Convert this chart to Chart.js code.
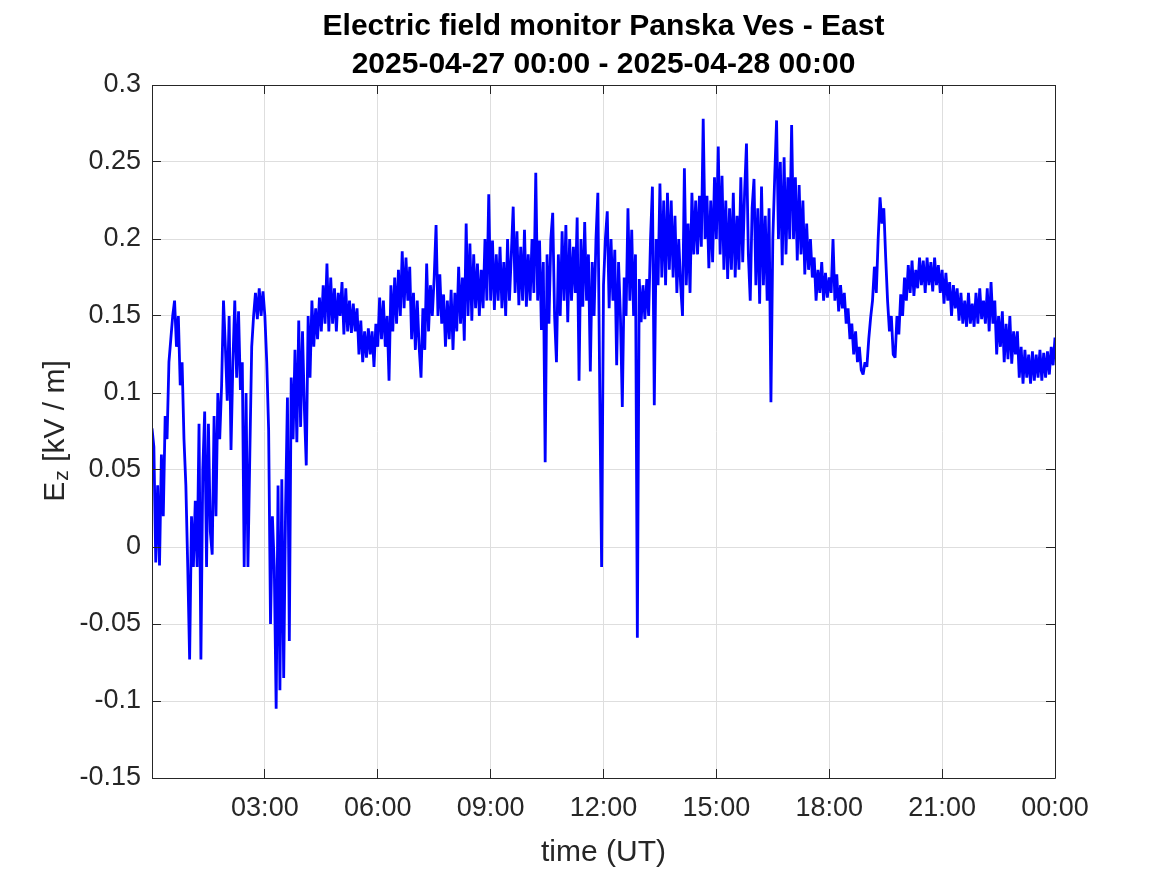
<!DOCTYPE html>
<html>
<head>
<meta charset="utf-8">
<script src="https://cdn.jsdelivr.net/npm/chart.js@4.4.1/dist/chart.umd.min.js"></script>
<style>
html,body{margin:0;padding:0;background:#ffffff;}
canvas{display:block;}
</style>
</head>
<body>
<canvas id="c" width="1167" height="875"></canvas>
<script>
const TITLE_LINES = ['Electric field monitor Panska Ves - East', '2025-04-27 00:00 - 2025-04-28 00:00'];
const X_TITLE = 'time (UT)';
const Y_TITLE_MAIN = 'E';
const Y_TITLE_SUB = 'z';
const Y_TITLE_REST = ' [kV / m]';

// sampling interval of the series, minutes since 2025-04-27 00:00 UT
const STEP_MIN = 3;

const xTickValues = [0, 180, 360, 540, 720, 900, 1080, 1260, 1440];
const xTickLabels = ['', '03:00', '06:00', '09:00', '12:00', '15:00', '18:00', '21:00', '00:00'];
const yTickValues = [-0.15, -0.1, -0.05, 0, 0.05, 0.1, 0.15, 0.2, 0.25, 0.3];
const yTickLabels = ['-0.15', '-0.1', '-0.05', '0', '0.05', '0.1', '0.15', '0.2', '0.25', '0.3'];

// Ez [kV/m], one value every 3 minutes (one row per hour, 20 values each)
const ez = [
  0.077, 0.065, -0.01, 0.04, -0.012, 0.06, 0.02, 0.085, 0.07, 0.12, 0.135, 0.15, 0.16, 0.13, 0.15, 0.105, 0.12, 0.07, 0.04, -0.013,
  -0.073, 0.02, -0.013, 0.03, -0.013, 0.08, -0.073, 0.05, 0.088, -0.013, 0.08, 0.01, -0.005, 0.085, 0.02, 0.1, 0.07, 0.105, 0.16, 0.13,
  0.095, 0.15, 0.063, 0.12, 0.16, 0.11, 0.153, 0.102, 0.12, -0.013, 0.1, -0.013, 0.06, 0.13, 0.15, 0.165, 0.148, 0.168, 0.15, 0.166,
  0.15, 0.12, 0.076, -0.05, 0.02, -0.013, -0.105, 0.04, -0.093, 0.044, -0.085, 0.025, 0.097, -0.061, 0.11, 0.07, 0.128, 0.068, 0.147, 0.078,
  0.14, 0.09, 0.053, 0.15, 0.11, 0.16, 0.13, 0.155, 0.135, 0.162, 0.14, 0.17, 0.145, 0.184, 0.14, 0.175, 0.145, 0.168, 0.14, 0.165,
  0.15, 0.172, 0.138, 0.168, 0.14, 0.16, 0.139, 0.158, 0.14, 0.155, 0.125, 0.147, 0.12, 0.14, 0.123, 0.142, 0.125, 0.14, 0.117, 0.145,
  0.13, 0.162, 0.135, 0.16, 0.13, 0.15, 0.108, 0.17, 0.14, 0.175, 0.145, 0.18, 0.15, 0.192, 0.155, 0.188, 0.16, 0.182, 0.135, 0.165,
  0.128, 0.16, 0.13, 0.11, 0.155, 0.128, 0.184, 0.14, 0.17, 0.15, 0.175, 0.209, 0.15, 0.177, 0.145, 0.164, 0.13, 0.16, 0.135, 0.167,
  0.128, 0.165, 0.14, 0.182, 0.145, 0.175, 0.134, 0.21, 0.15, 0.197, 0.147, 0.19, 0.155, 0.184, 0.15, 0.18, 0.155, 0.2, 0.16, 0.229,
  0.16, 0.199, 0.154, 0.19, 0.16, 0.195, 0.155, 0.185, 0.15, 0.2, 0.16, 0.19, 0.221, 0.165, 0.205, 0.157, 0.195, 0.16, 0.206, 0.156,
  0.19, 0.16, 0.2, 0.165, 0.243, 0.16, 0.199, 0.141, 0.185, 0.055, 0.19, 0.145, 0.2, 0.217, 0.15, 0.12, 0.19, 0.15, 0.205, 0.16,
  0.209, 0.146, 0.2, 0.16, 0.195, 0.165, 0.214, 0.108, 0.2, 0.156, 0.211, 0.16, 0.19, 0.114, 0.185, 0.15, 0.2, 0.23, 0.102, -0.013,
  0.17, 0.2, 0.218, 0.155, 0.2, 0.16, 0.193, 0.118, 0.185, 0.15, 0.091, 0.175, 0.15, 0.22, 0.16, 0.206, 0.15, 0.19, -0.059, 0.174,
  0.146, 0.17, 0.148, 0.174, 0.15, 0.2, 0.234, 0.092, 0.2, 0.17, 0.236, 0.175, 0.225, 0.17, 0.23, 0.18, 0.225, 0.175, 0.215, 0.165,
  0.2, 0.17, 0.15, 0.246, 0.17, 0.21, 0.165, 0.23, 0.19, 0.225, 0.19, 0.228, 0.195, 0.278, 0.2, 0.228, 0.181, 0.225, 0.185, 0.24,
  0.2, 0.26, 0.19, 0.241, 0.18, 0.225, 0.174, 0.22, 0.18, 0.23, 0.175, 0.215, 0.18, 0.24, 0.185, 0.23, 0.262, 0.19, 0.16, 0.22,
  0.239, 0.17, 0.22, 0.158, 0.234, 0.17, 0.215, 0.16, 0.22, 0.094, 0.2, 0.24, 0.277, 0.2, 0.25, 0.183, 0.253, 0.19, 0.24, 0.2,
  0.274, 0.2, 0.24, 0.186, 0.235, 0.19, 0.225, 0.177, 0.21, 0.18, 0.2, 0.175, 0.188, 0.16, 0.18, 0.165, 0.185, 0.16, 0.178, 0.162,
  0.175, 0.165, 0.2, 0.16, 0.177, 0.153, 0.17, 0.155, 0.165, 0.145, 0.155, 0.135, 0.145, 0.125, 0.14, 0.12, 0.13, 0.115, 0.112, 0.12,
  0.117, 0.135, 0.149, 0.16, 0.182, 0.165, 0.2, 0.227, 0.21, 0.22, 0.188, 0.16, 0.14, 0.15, 0.125, 0.123, 0.15, 0.138, 0.164, 0.15,
  0.175, 0.16, 0.183, 0.165, 0.186, 0.163, 0.18, 0.168, 0.188, 0.17, 0.186, 0.165, 0.188, 0.17, 0.185, 0.166, 0.188, 0.17, 0.183, 0.165,
  0.18, 0.158, 0.178, 0.16, 0.172, 0.15, 0.17, 0.155, 0.168, 0.147, 0.165, 0.145, 0.16, 0.143, 0.165, 0.145, 0.158, 0.143, 0.165, 0.145,
  0.168, 0.148, 0.16, 0.145, 0.168, 0.14, 0.172, 0.145, 0.16, 0.125, 0.15, 0.13, 0.153, 0.12, 0.145, 0.122, 0.15, 0.119, 0.14, 0.125,
  0.14, 0.11, 0.13, 0.106, 0.128, 0.11, 0.125, 0.106, 0.127, 0.108, 0.125, 0.11, 0.128, 0.108, 0.126, 0.11, 0.127, 0.112, 0.13, 0.118,
  0.136
];

const FONT = '"Liberation Sans", Arial, Helvetica, sans-serif';
const AXIS_COLOR = '#262626';
const GRID_COLOR = 'rgb(222,222,222)';

function labelFor(values, labels, v) {
  const i = values.findIndex(t => Math.abs(t - v) < 1e-9);
  return i >= 0 ? labels[i] : '';
}

const framePlugin = {
  id: 'frame',
  afterDatasetsDraw(chart) {
    const {ctx, chartArea: a, scales: {x, y}} = chart;
    const TL = 9;
    const c = v => Math.floor(v) + 0.5;
    ctx.save();
    ctx.strokeStyle = AXIS_COLOR;
    ctx.lineWidth = 1;
    ctx.beginPath();
    ctx.rect(c(a.left), c(a.top), Math.round(a.right - a.left), Math.round(a.bottom - a.top));
    xTickValues.forEach(v => {
      const px = c(x.getPixelForValue(v));
      ctx.moveTo(px, a.bottom); ctx.lineTo(px, a.bottom - TL);
      ctx.moveTo(px, a.top); ctx.lineTo(px, a.top + TL);
    });
    yTickValues.forEach(v => {
      const py = c(y.getPixelForValue(v));
      ctx.moveTo(a.left, py); ctx.lineTo(a.left + TL, py);
      ctx.moveTo(a.right, py); ctx.lineTo(a.right - TL, py);
    });
    ctx.stroke();
    ctx.restore();
  },
  afterDraw(chart) {
    const {ctx, chartArea: a} = chart;
    ctx.save();
    // title
    ctx.fillStyle = '#000000';
    ctx.font = 'bold 30px ' + FONT;
    ctx.textAlign = 'center';
    ctx.textBaseline = 'alphabetic';
    const cx = (a.left + a.right) / 2;
    ctx.fillText(TITLE_LINES[0], cx, 35);
    ctx.fillText(TITLE_LINES[1], cx, 73);
    // y axis title with subscript
    ctx.fillStyle = AXIS_COLOR;
    ctx.translate(64, (a.top + a.bottom) / 2);
    ctx.rotate(-Math.PI / 2);
    ctx.textAlign = 'left';
    const mainFont = '30px ' + FONT;
    const subFont = '21px ' + FONT;
    ctx.font = mainFont;
    const wE = ctx.measureText(Y_TITLE_MAIN).width;
    const wR = ctx.measureText(Y_TITLE_REST).width;
    ctx.font = subFont;
    const wz = ctx.measureText(Y_TITLE_SUB).width;
    let sx = -(wE + wz + wR) / 2;
    ctx.font = mainFont;
    ctx.fillText(Y_TITLE_MAIN, sx, 0);
    ctx.font = subFont;
    ctx.fillText(Y_TITLE_SUB, sx + wE + 1, 4);
    ctx.font = mainFont;
    ctx.fillText(Y_TITLE_REST, sx + wE + wz + 1, 0);
    ctx.restore();
  }
};

new Chart(document.getElementById('c').getContext('2d'), {
  type: 'line',
  data: {
    datasets: [{
      data: ez.map((v, i) => ({x: i * STEP_MIN, y: v})),
      borderColor: '#0000ff',
      borderWidth: 2.8,
      pointRadius: 0,
      tension: 0,
      fill: false,
      borderJoinStyle: 'bevel'
    }]
  },
  options: {
    responsive: false,
    animation: false,
    devicePixelRatio: 1,
    layout: {padding: {top: 85, right: 112, bottom: 0, left: 0}},
    plugins: {legend: {display: false}, title: {display: false}, tooltip: {enabled: false}},
    scales: {
      x: {
        type: 'linear',
        min: 0,
        max: 1440,
        afterBuildTicks: s => { s.ticks = xTickValues.map(v => ({value: v})); },
        afterFit: s => { s.height = 97; },
        ticks: {
          callback: v => labelFor(xTickValues, xTickLabels, v),
          font: {family: FONT, size: 27},
          color: AXIS_COLOR,
          padding: 14,
          maxRotation: 0,
          autoSkip: false
        },
        grid: {color: GRID_COLOR, drawTicks: false, lineWidth: 1},
        border: {display: false},
        title: {display: true, text: X_TITLE, font: {family: FONT, size: 30}, color: AXIS_COLOR, padding: {top: 0, bottom: 4}}
      },
      y: {
        type: 'linear',
        min: -0.15,
        max: 0.3,
        afterBuildTicks: s => { s.ticks = yTickValues.map(v => ({value: v})); },
        afterFit: s => { s.width = 152; },
        ticks: {
          callback: v => labelFor(yTickValues, yTickLabels, v),
          font: {family: FONT, size: 27},
          color: AXIS_COLOR,
          padding: 11,
          autoSkip: false
        },
        grid: {color: GRID_COLOR, drawTicks: false, lineWidth: 1},
        border: {display: false}
      }
    }
  },
  plugins: [framePlugin]
});
</script>
</body>
</html>
